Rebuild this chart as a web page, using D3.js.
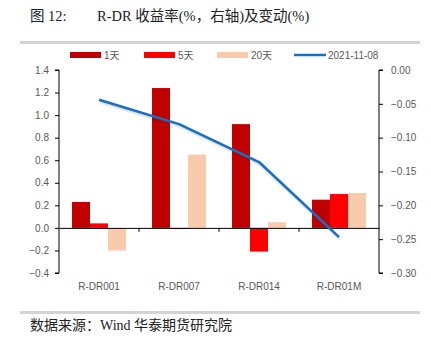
<!DOCTYPE html>
<html><head><meta charset="utf-8">
<script src="https://cdn.jsdelivr.net/npm/d3@7"></script>
<style>
body{margin:0;background:#fff;}
svg{display:block;}
</style></head>
<body>
<svg id="chart" width="431" height="348"></svg>
<script>
// Categories and series
const categories = ["R-DR001", "R-DR007", "R-DR014", "R-DR01M"];
const seriesNames = ["1天", "5天", "20天"];
const change1d = [0.23, 1.24, 0.92, 0.25];
const change5d = [0.04, -0.01, -0.21, 0.30];
const change20d = [-0.20, 0.65, 0.05, 0.31];
const lineName = "2021-11-08";
const rate = [-0.044, -0.080, -0.136, -0.247];
const leftTicks = [-0.4, -0.2, 0, 0.2, 0.4, 0.6, 0.8, 1.0, 1.2, 1.4];
const rightTicks = [0, -0.05, -0.10, -0.15, -0.20, -0.25, -0.30];

const colors = ["#C00000", "#FF0000", "#F8CBAD"];
const lineColor = "#1870C4";
const textColor = "#595959";
const labelFont = "Liberation Sans, Arial, sans-serif";

const svg = d3.select("#chart");

// header / footer rules
svg.append("rect").attr("x", 20).attr("y", 41).attr("width", 400).attr("height", 3).attr("fill", "#d4d4d4");
svg.append("rect").attr("x", 20).attr("y", 311).attr("width", 400).attr("height", 3).attr("fill", "#d4d4d4");

const titleFont = "'Liberation Serif', 'Noto Sans CJK SC', serif";
svg.append("text").attr("x", 30).attr("y", 21).attr("font-family", titleFont).attr("font-size", 14.5).attr("fill", "#222").text("图 12:");
svg.append("text").attr("x", 97).attr("y", 21).attr("font-family", titleFont).attr("font-size", 14.5).attr("fill", "#222").text("R-DR 收益率(%，右轴)及变动(%)");
svg.append("text").attr("x", 30).attr("y", 330).attr("font-family", titleFont).attr("font-size", 14).attr("fill", "#222").text("数据来源：Wind  华泰期货研究院");

const x0 = 59, x1 = 379, yTop = 70, yBot = 273;

const x = d3.scaleBand().domain(categories).range([x0, x1]);
const xs = d3.scaleBand().domain(seriesNames).range([0, 54]);
const yL = d3.scaleLinear().domain([-0.4, 1.4]).range([yBot, yTop]);
const yR = d3.scaleLinear().domain([-0.30, 0]).range([yBot, yTop]);

// bars
const values = [change1d, change5d, change20d];
const g = svg.append("g");
seriesNames.forEach((s, si) => {
  g.selectAll(null).data(categories).enter().append("rect")
    .attr("x", c => x(c) + x.bandwidth() / 2 - 27 + xs(s))
    .attr("width", xs.bandwidth())
    .attr("y", (c, i) => yL(Math.max(0, values[si][i])))
    .attr("height", (c, i) => Math.abs(yL(values[si][i]) - yL(0)))
    .attr("fill", colors[si]);
});

// left axis
const axL = svg.append("g").attr("transform", `translate(${x0},0)`)
  .call(d3.axisLeft(yL).tickValues(leftTicks).tickFormat(d3.format(".1f")).tickSize(4).tickPadding(6));
// right axis
const axR = svg.append("g").attr("transform", `translate(${x1},0)`)
  .call(d3.axisRight(yR).tickValues(rightTicks).tickFormat(d3.format(".2f")).tickSize(4).tickPadding(8));
[axL, axR].forEach(a => {
  a.select(".domain").attr("stroke", "#000").attr("d", a === axL ? `M-4,${yTop}H0V${yBot}H-4` : `M4,${yTop}H0V${yBot}H4`);
  a.selectAll(".tick line").attr("stroke", "#000");
  a.selectAll("text").attr("font-family", labelFont).attr("font-size", 10).attr("fill", textColor);
});

// category axis on the zero line
const axX = svg.append("g").attr("transform", `translate(0,${yL(0)})`)
  .call(d3.axisBottom(x).tickSize(0).tickFormat(""));
axX.select(".domain").attr("stroke", "#000");
axX.selectAll(null).data(categories.slice(1)).enter().append("line")
  .attr("x1", c => x(c)).attr("x2", c => x(c)).attr("y1", 0).attr("y2", 4).attr("stroke", "#000");
svg.selectAll(null).data(categories).enter().append("text")
  .attr("x", c => x(c) + x.bandwidth() / 2).attr("y", 290)
  .attr("text-anchor", "middle").attr("font-family", labelFont).attr("font-size", 10).attr("fill", textColor)
  .text(c => c);

// rate line with soft shadow
const defs = svg.append("defs");
const f = defs.append("filter").attr("id", "sh").attr("x", "-10%").attr("y", "-10%").attr("width", "120%").attr("height", "130%");
f.append("feDropShadow").attr("dx", 1).attr("dy", 1.5).attr("stdDeviation", 1).attr("flood-color", "#000").attr("flood-opacity", 0.22);
const line = d3.line().x((d, i) => x(categories[i]) + x.bandwidth() / 2).y(d => yR(d));
svg.append("path").datum(rate).attr("d", line).attr("fill", "none")
  .attr("stroke", lineColor).attr("stroke-width", 2.5).attr("stroke-linejoin", "round").attr("filter", "url(#sh)");

// legend
const legY = 55;
const legItems = [
  {name: seriesNames[0], x: 70, color: colors[0], type: "bar"},
  {name: seriesNames[1], x: 144, color: colors[1], type: "bar"},
  {name: seriesNames[2], x: 217, color: colors[2], type: "bar"},
  {name: lineName, x: 294, color: lineColor, type: "line"}
];
legItems.forEach(it => {
  if (it.type === "bar") {
    svg.append("rect").attr("x", it.x).attr("y", legY - 3).attr("width", 31).attr("height", 6).attr("fill", it.color);
  } else {
    svg.append("line").attr("x1", it.x).attr("x2", it.x + 32).attr("y1", legY).attr("y2", legY)
      .attr("stroke", it.color).attr("stroke-width", 2.5);
  }
  svg.append("text").attr("x", it.x + 34).attr("y", legY + 4).attr("font-family", labelFont + ", 'Noto Sans CJK SC'")
    .attr("font-size", 10).attr("fill", textColor).text(it.name);
});
</script>
</body></html>
